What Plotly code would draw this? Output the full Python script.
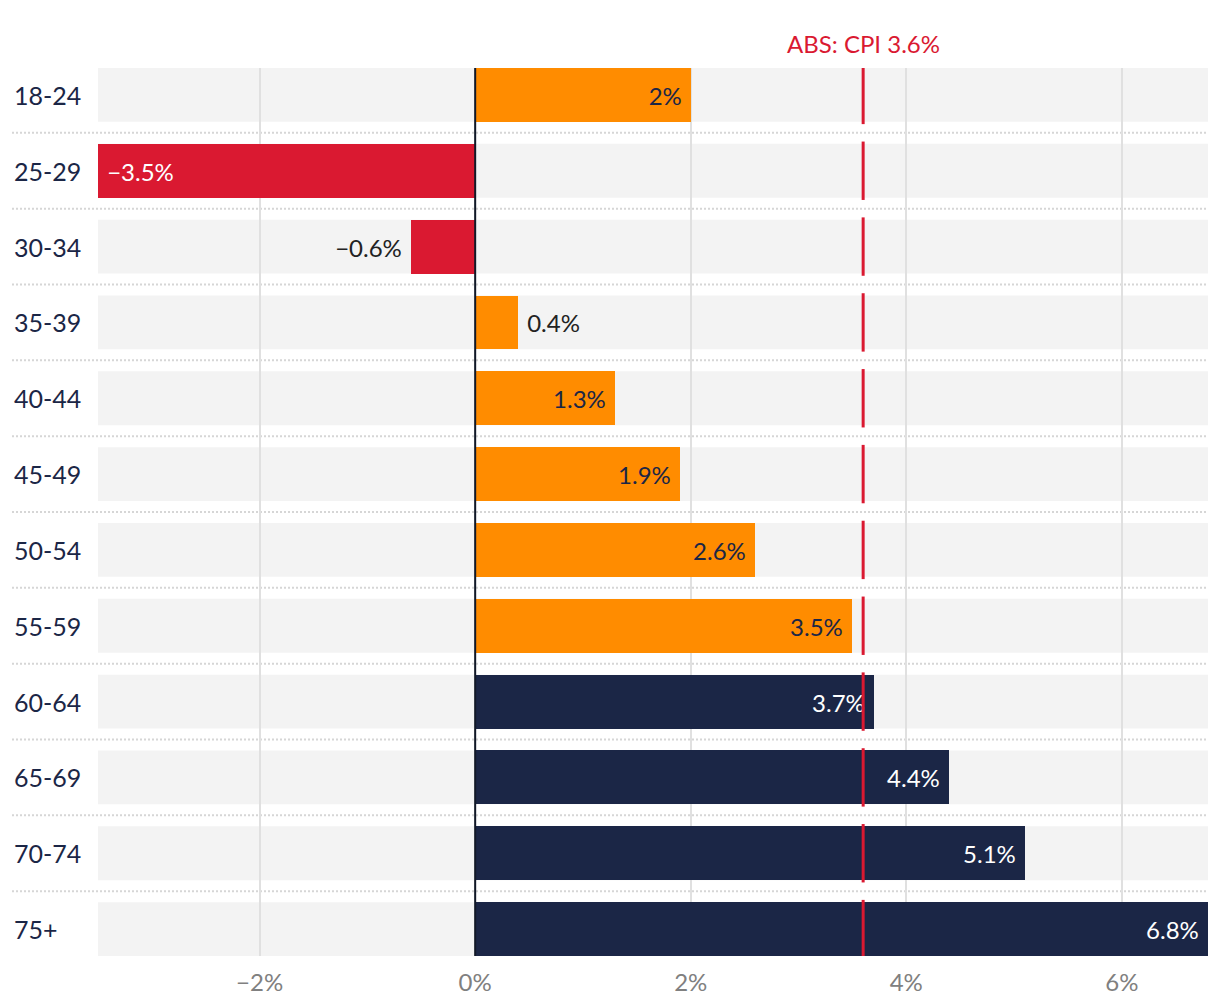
import plotly.graph_objects as go

categories = ["18-24", "25-29", "30-34", "35-39", "40-44", "45-49",
              "50-54", "55-59", "60-64", "65-69", "70-74", "75+"]
values = [2.0, -3.5, -0.6, 0.4, 1.3, 1.9, 2.6, 3.5, 3.7, 4.4, 5.1, 6.8]
cpi_value = 3.6
cpi_label = "ABS: CPI 3.6%"
x_tickvals = [-2, 0, 2, 4, 6]
x_ticktext = ["\u22122%", "0%", "2%", "4%", "6%"]

ORANGE = "#ff8c00"
RED = "#da1931"
NAVY = "#1b2646"
FONT = "Lato"
NB = "\u00a0"

colors, text, tpos, tcolors = [], [], [], []
for i, v in enumerate(values):
    label = f"{abs(v):g}%"
    if v < 0:
        label = "\u2212" + label
    if v < 0:
        c = RED
    elif i >= 8:
        c = NAVY
    else:
        c = ORANGE
    colors.append(c)
    inside = abs(v) >= 1
    tpos.append("inside" if inside else "outside")
    if inside:
        text.append(label + NB if v > 0 else NB + label)
        tcolors.append(NAVY if c == ORANGE else "white")
    else:
        text.append(NB + label if v > 0 else label + NB)
        tcolors.append("#222222")

fig = go.Figure()
fig.add_trace(go.Bar(
    y=categories, x=values, orientation="h", width=0.71,
    marker=dict(color=colors, line=dict(width=0)),
    text=text, textposition=tpos, insidetextanchor="end", textangle=0,
    textfont=dict(family=FONT, size=24, color=tcolors),
    cliponaxis=False, hoverinfo="skip", showlegend=False,
))

shapes = []
n = len(categories)
label_x = (4 - 90) / 1110
for i in range(n):
    shapes.append(dict(type="rect", xref="paper", yref="y", x0=0, x1=1,
                       y0=i - 0.355, y1=i + 0.355, fillcolor="#f3f3f3",
                       line=dict(width=0), layer="below"))
    shapes.append(dict(type="line", xref="x", yref="y", x0=cpi_value, x1=cpi_value,
                       y0=i - 0.385, y1=i + 0.385, line=dict(color=RED, width=3),
                       layer="above"))
for i in range(n - 1):
    shapes.append(dict(type="line", xref="paper", yref="y", x0=label_x, x1=1,
                       y0=i + 0.5, y1=i + 0.5,
                       line=dict(color="#d6d6d6", width=2, dash="2px,2px"),
                       layer="below"))
shapes.append(dict(type="line", xref="x", yref="paper", x0=0, x1=0, y0=0, y1=1,
                   line=dict(color="#111827", width=2), layer="above"))

annotations = [dict(xref="paper", yref="y", x=label_x, y=cat, text=cat,
                    xanchor="left", yanchor="middle", showarrow=False,
                    font=dict(family=FONT, size=25, color=NAVY))
               for cat in categories]
annotations.append(dict(xref="x", yref="paper", x=cpi_value, y=1, text=cpi_label,
                        xanchor="center", yanchor="bottom", yshift=8, showarrow=False,
                        font=dict(family=FONT, size=24, color=RED)))

fig.update_layout(
    width=1212, height=1000,
    margin=dict(l=90, r=12, t=60, b=50),
    paper_bgcolor="white", plot_bgcolor="rgba(0,0,0,0)",
    font=dict(family=FONT, size=24, color=NAVY),
    shapes=shapes, annotations=annotations,
    bargap=0, hovermode=False,
    xaxis=dict(range=[-3.5, 6.8], tickvals=x_tickvals, ticktext=x_ticktext,
               showgrid=True, gridcolor="#e0e0e0", gridwidth=2,
               zeroline=False, ticks="", showline=False,
               ticklabelstandoff=10,
               tickfont=dict(family=FONT, size=24, color="#808080"),
               fixedrange=True),
    yaxis=dict(categoryorder="array", categoryarray=categories,
               range=[n - 1 + 0.355, -0.355], showticklabels=False,
               showgrid=False, zeroline=False, ticks="", fixedrange=True),
)

fig.write_html("out.html")
